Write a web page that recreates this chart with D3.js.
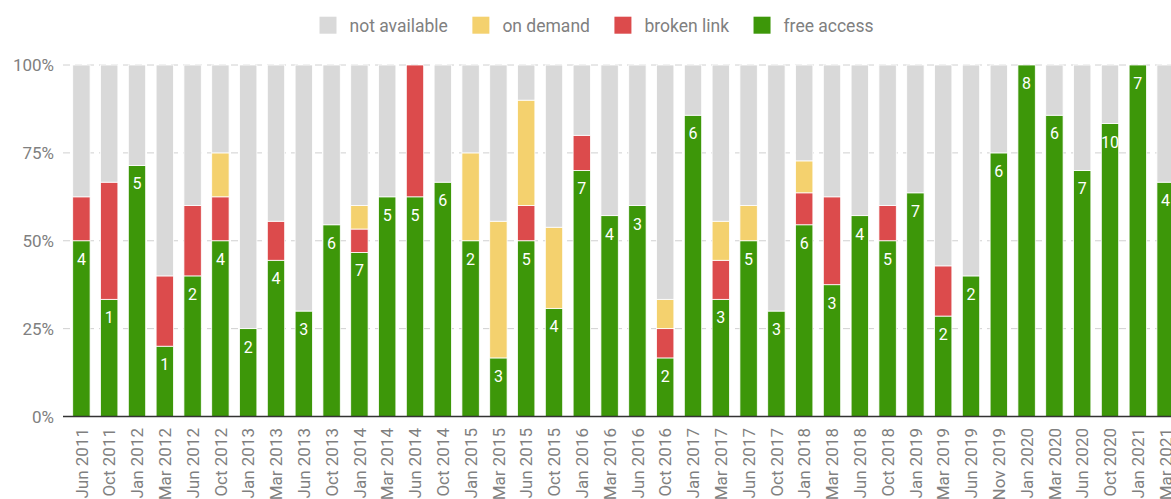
<!DOCTYPE html>
<html>
<head>
    <meta charset="utf-8">
    <script src="https://cdn.jsdelivr.net/npm/d3@7"></script>
    <style>
        body { margin: 0; background: #fff; }
        text { font-family: Roboto, "Noto Sans", sans-serif; }
    </style>
</head>
<body>
<div id="chart"></div>
<script>
    // categories (survey dates)
    var months = ["Jun 2011", "Oct 2011", "Jan 2012", "Mar 2012", "Jun 2012", "Oct 2012",
        "Jan 2013", "Mar 2013", "Jun 2013", "Oct 2013", "Jan 2014", "Mar 2014", "Jun 2014",
        "Oct 2014", "Jan 2015", "Mar 2015", "Jun 2015", "Oct 2015", "Jan 2016", "Mar 2016",
        "Jun 2016", "Oct 2016", "Jan 2017", "Mar 2017", "Jun 2017", "Oct 2017", "Jan 2018",
        "Mar 2018", "Jun 2018", "Oct 2018", "Jan 2019", "Mar 2019", "Jun 2019", "Nov 2019",
        "Jan 2020", "Mar 2020", "Jun 2020", "Oct 2020", "Jan 2021", "Mar 2021"];

    // counts per status
    var freeAccess = [4, 1, 5, 1, 2, 4, 2, 4, 3, 6, 7, 5, 5, 6, 2, 3, 5, 4, 7, 4,
                      3, 2, 6, 3, 5, 3, 6, 3, 4, 5, 7, 2, 2, 6, 8, 6, 7, 10, 7, 4];
    var brokenLink = [1, 1, 0, 1, 1, 1, 0, 1, 0, 0, 1, 0, 3, 0, 0, 0, 1, 0, 1, 0,
                      0, 1, 0, 1, 0, 0, 1, 2, 0, 1, 0, 1, 0, 0, 0, 0, 0, 0, 0, 0];
    var onDemand   = [0, 0, 0, 0, 0, 1, 0, 0, 0, 0, 1, 0, 0, 0, 1, 7, 3, 3, 0, 0,
                      0, 1, 0, 1, 1, 0, 1, 0, 0, 0, 0, 0, 0, 0, 0, 0, 0, 0, 0, 0];
    var notAvail   = [3, 1, 2, 3, 2, 2, 6, 4, 7, 5, 6, 3, 0, 3, 1, 8, 1, 6, 2, 3,
                      2, 8, 1, 4, 4, 7, 3, 3, 3, 4, 4, 4, 3, 2, 0, 1, 3, 2, 0, 2];

    var yTicks = [0, 0.25, 0.5, 0.75, 1];

    var keys = ["free", "broken", "demand", "na"];
    var names = {free: "free access", broken: "broken link", demand: "on demand", na: "not available"};
    var colors = {free: "#3d9709", broken: "#dc4b4c", demand: "#f4d16e", na: "#d9d9d9"};
    var legendOrder = ["na", "demand", "broken", "free"];
    var textGray = "#808080";

    var W = 1171, H = 499;
    var plotL = 63, plotT = 65, plotB = 416.5;

    var rows = months.map(function(m, i) {
        return {month: m, free: freeAccess[i], broken: brokenLink[i], demand: onDemand[i], na: notAvail[i]};
    });

    var svg = d3.select("#chart").append("svg")
        .attr("width", W)
        .attr("height", H);

    var step = 27.8;
    var x = d3.scaleBand()
        .domain(months)
        .range([67.5, 67.5 + months.length * step])
        .paddingInner(0.375)
        .paddingOuter(0.1875);

    var y = d3.scaleLinear()
        .domain([0, 1])
        .range([plotB, plotT]);

    // gridlines
    svg.append("g")
        .selectAll("line")
        .data(yTicks.filter(function(d) { return d > 0; }))
        .join("line")
            .attr("x1", plotL)
            .attr("x2", W)
            .attr("y1", function(d) { return y(d); })
            .attr("y2", function(d) { return y(d); })
            .attr("stroke", "#d0d0d0")
            .attr("stroke-width", 1)
            .attr("stroke-dasharray", "7,5");

    // y tick labels
    svg.append("g")
        .selectAll("text")
        .data(yTicks)
        .join("text")
            .attr("x", 54)
            .attr("y", function(d) { return y(d); })
            .attr("dy", "0.36em")
            .attr("text-anchor", "end")
            .attr("fill", textGray)
            .style("font-size", "17px")
            .text(function(d) { return d3.format(".0%")(d); });

    var stacked = d3.stack().keys(keys).offset(d3.stackOffsetExpand)(rows);

    var layer = svg.append("g")
        .selectAll("g")
        .data(stacked)
        .join("g")
            .attr("fill", function(d) { return colors[d.key]; });

    layer.selectAll("rect")
        .data(function(d) { return d; })
        .join("rect")
            .attr("x", function(d) { return x(d.data.month); })
            .attr("width", x.bandwidth())
            .attr("y", function(d) { return y(d[1]); })
            .attr("height", function(d) { return Math.max(0, y(d[0]) - y(d[1])); })
            .attr("stroke", "#fff")
            .attr("stroke-width", function(d) { return d[1] > d[0] ? 0.8 : 0; });

    // free access counts inside the green bars
    svg.append("g")
        .selectAll("text")
        .data(stacked[0])
        .join("text")
            .attr("x", function(d) { return x(d.data.month) + x.bandwidth() / 2; })
            .attr("y", function(d) { return y(d[1]) + 24; })
            .attr("text-anchor", "middle")
            .attr("fill", "#fff")
            .style("font-size", "16px")
            .text(function(d) { return d.data.free; });

    // baseline
    svg.append("line")
        .attr("x1", plotL)
        .attr("x2", W)
        .attr("y1", plotB)
        .attr("y2", plotB)
        .attr("stroke", "#333")
        .attr("stroke-width", 1.5);

    // x labels, rotated
    svg.append("g")
        .selectAll("text")
        .data(months)
        .join("text")
            .attr("transform", function(d) {
                return "translate(" + (x(d) + x.bandwidth() / 2) + ",428) rotate(-90)";
            })
            .attr("dy", "0.36em")
            .attr("text-anchor", "end")
            .attr("fill", textGray)
            .style("font-size", "17px")
            .text(function(d) { return d; });

    // legend
    var lx = 319.5;
    legendOrder.forEach(function(k) {
        svg.append("rect")
            .attr("x", lx)
            .attr("y", 16.7)
            .attr("width", 17)
            .attr("height", 17)
            .attr("fill", colors[k]);
        var t = svg.append("text")
            .attr("x", lx + 30)
            .attr("y", 25.2)
            .attr("dy", "0.36em")
            .attr("fill", textGray)
            .style("font-size", "17.5px")
            .text(names[k]);
        lx = lx + 30 + t.node().getComputedTextLength() + 24.5;
    });
</script>
</body>
</html>
